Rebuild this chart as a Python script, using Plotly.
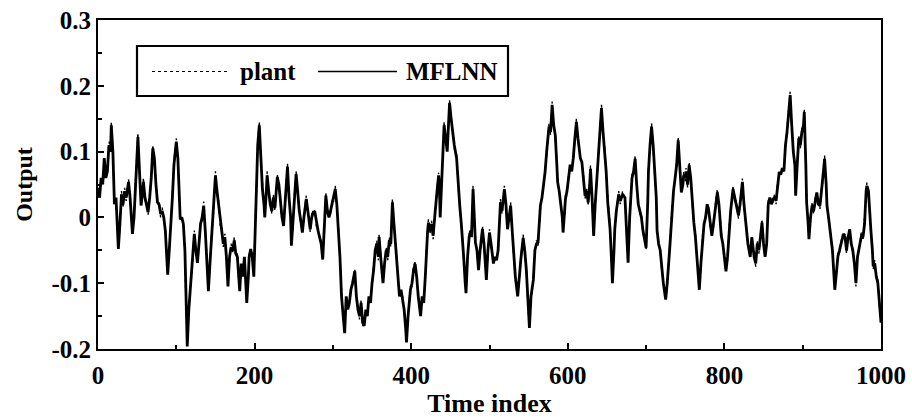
import plotly.graph_objects as go

# time indices where values were read
t = [0,2,4,6,8,10,12,14,16,17,19,21,23,25,26,28,30,32,34,36,39,41,42,44,46,48,51,53,55,57,58,60,62,64,66,68,70,72,74,76,78,80,82,84,86,88,89,91,93,95,97,100,102,105,107,109,111,112,114,116,118,120,123,125,127,129,131,133,135,137,138,141,143,145,147,149,150,152,154,156,158,160,162,164,166,168,170,172,174,176,178,179,181,183,185,187,189,190,192,193,195,197,199,201,203,204,206,208,210,212,213,215,216,218,220,222,224,226,228,229,231,233,235,237,239,241,242,244,246,247,249,251,253,255,257,259,261,263,264,266,268,270,271,273,275,277,279,281,283,285,287,289,291,293,295,297,299,301,303,305,307,309,311,313,315,317,319,321,323,325,328,330,332,334,336,338,340,342,344,346,348,350,352,354,356,358,359,361,364,366,368,370,372,374,376,378,381,383,385,387,389,391,393,394,396,399,401,403,405,407,409,411,412,414,416,418,419,421,422,424,426,428,430,431,433,435,436,437,439,441,442,444,446,448,449,451,453,455,458,460,462,464,465,467,469,470,472,474,476,477,479,481,482,484,486,488,491,493,496,498,500,502,505,507,509,511,513,514,516,519,521,523,525,527,529,531,533,536,538,540,543,545,547,549,551,553,556,558,560,562,564,565,567,569,571,573,576,578,580,582,584,586,587,589,591,593,594,596,597,599,601,603,605,607,609,611,613,616,618,620,622,624,626,628,629,631,633,635,638,640,643,645,647,649,651,653,654,656,657,659,660,662,665,667,670,673,675,677,679,682,684,686,688,690,692,694,696,698,700,702,703,705,707,709,711,713,714,716,718,720,722,725,727,730,731,733,735,737,739,741,743,745,747,748,750,751,753,755,757,759,761,763,765,767,768,770,772,774,776,778,780,782,784,786,788,791,793,796,798,800,802,804,806,808,811,813,815,818,820,823,825,828,830,833,835,838,840,842,844,846,848,850,852,854,856,858,860,862,864,866,868,870,872,874,876,878,880,882,884,886,888,890,891,893,895,897,899,901,902,904,905,907,908,910,912,914,916,918,920,922,924,926,928,930,931,933,935,936,938,941,943,945,947,949,952,954,956,958,960,962,964,966,968,970,972,975,977,979,981,982,984,986,987,989,990,992,994,996,998,1000]

mflnn = [0.045,0.03,0.06,0.05,0.09,0.06,0.07,0.11,0.10,0.14,0.10,0.02,0.03,-0.02,-0.048,-0.01,0.035,0.02,0.04,0.03,0.054,0.03,0.01,-0.025,0.00,0.06,0.122,0.07,0.018,0.04,0.054,0.03,0.02,0.008,0.03,0.06,0.105,0.09,0.05,0.023,0.02,0.005,0.01,0.0,-0.02,-0.06,-0.087,-0.05,-0.013,0.03,0.08,0.115,0.09,-0.003,0.0,-0.01,-0.05,-0.12,-0.196,-0.14,-0.11,-0.08,-0.025,-0.05,-0.069,-0.04,-0.01,0.0,0.018,-0.02,-0.04,-0.112,-0.07,-0.03,0.0,0.04,0.064,0.04,0.02,-0.008,-0.02,-0.04,-0.03,-0.06,-0.105,-0.06,-0.045,-0.05,-0.035,-0.055,-0.06,-0.08,-0.112,-0.07,-0.09,-0.06,-0.1,-0.13,-0.09,-0.06,-0.048,-0.06,-0.09,0.0,0.06,0.11,0.14,0.09,0.043,0.02,0.0,0.04,0.064,0.04,0.02,0.01,0.03,0.015,0.04,0.061,0.05,0.02,0.0,-0.013,0.03,0.06,0.077,0.03,0.0,-0.043,-0.01,0.03,0.066,0.04,0.01,-0.005,-0.023,0.0,0.01,0.028,0.01,-0.01,-0.018,0.0,0.008,0.008,-0.01,-0.02,-0.03,-0.04,-0.064,-0.02,0.033,0.01,0.0,0.01,0.02,0.03,0.043,0.02,-0.018,-0.06,-0.12,-0.15,-0.176,-0.12,-0.14,-0.13,-0.11,-0.10,-0.082,-0.12,-0.14,-0.15,-0.13,-0.16,-0.165,-0.14,-0.15,-0.12,-0.13,-0.10,-0.08,-0.05,-0.04,-0.06,-0.03,-0.06,-0.10,-0.07,-0.05,-0.06,-0.035,-0.04,0.023,-0.01,-0.053,-0.09,-0.12,-0.11,-0.125,-0.14,-0.17,-0.19,-0.15,-0.11,-0.10,-0.08,-0.071,-0.09,-0.12,-0.14,-0.15,-0.12,-0.13,-0.09,-0.06,-0.02,-0.008,-0.02,-0.01,-0.028,0.0,0.018,0.04,0.064,0.05,0.0,0.06,0.12,0.14,0.12,0.10,0.15,0.174,0.15,0.13,0.11,0.09,0.05,0.018,-0.01,-0.023,-0.06,-0.10,-0.115,-0.06,-0.03,-0.02,-0.03,0.043,0.0,-0.038,-0.05,-0.08,-0.05,-0.018,-0.04,-0.095,-0.05,-0.023,-0.04,-0.07,-0.06,-0.065,-0.05,-0.01,0.023,0.01,0.043,0.02,-0.018,0.0,0.018,-0.02,-0.059,-0.09,-0.12,-0.09,-0.064,-0.031,-0.05,-0.079,-0.13,-0.168,-0.12,-0.095,-0.05,-0.04,-0.038,0.0,0.018,0.03,0.05,0.069,0.1,0.138,0.13,0.171,0.14,0.125,0.08,0.054,0.04,0.018,0.0,-0.023,0.01,0.028,0.04,0.06,0.08,0.07,0.09,0.12,0.145,0.12,0.09,0.084,0.06,0.033,0.04,0.023,0.05,0.074,0.03,-0.028,0.02,0.069,0.11,0.166,0.13,0.105,0.07,0.023,0.0,-0.018,-0.07,-0.1,-0.05,-0.018,0.01,0.035,0.025,0.035,0.03,-0.02,-0.069,0.0,0.06,0.07,0.089,0.05,0.02,0.01,0.0,-0.02,-0.035,-0.046,0.02,0.069,0.11,0.138,0.11,0.06,0.03,-0.02,-0.04,-0.05,-0.08,-0.1,-0.125,-0.1,-0.05,-0.03,0.01,0.04,0.059,0.08,0.117,0.08,0.038,0.05,0.064,0.06,0.07,0.05,0.079,0.06,0.02,-0.008,-0.03,-0.06,-0.09,-0.11,-0.07,-0.033,-0.01,0.0,0.02,0.01,-0.01,-0.028,-0.01,0.01,0.038,0.02,-0.028,-0.04,-0.06,-0.082,-0.06,-0.018,0.01,0.043,0.03,0.02,0.003,0.02,0.054,0.02,-0.018,-0.04,-0.06,-0.03,-0.06,-0.07,-0.04,-0.05,-0.03,-0.008,-0.04,-0.06,-0.04,0.02,0.03,0.02,0.028,0.03,0.025,0.05,0.069,0.065,0.075,0.07,0.11,0.13,0.16,0.186,0.14,0.1,0.08,0.033,0.08,0.12,0.11,0.13,0.14,0.16,0.08,0.023,-0.01,-0.033,0.0,0.018,0.01,0.025,0.038,0.02,0.018,0.04,0.06,0.089,0.05,0.018,0.0,-0.02,-0.028,-0.05,-0.11,-0.08,-0.059,-0.05,-0.04,-0.025,-0.03,-0.05,-0.03,-0.018,-0.04,-0.05,-0.07,-0.1,-0.06,-0.045,-0.028,-0.03,-0.01,0.04,0.048,0.04,-0.01,-0.018,-0.05,-0.074,-0.07,-0.09,-0.1,-0.13,-0.16]

plant = [0.04,0.035,0.055,0.055,0.085,0.065,0.075,0.115,0.105,0.145,0.095,0.025,0.025,-0.015,-0.045,-0.015,0.04,0.015,0.045,0.025,0.058,0.035,0.005,-0.02,0.005,0.055,0.128,0.065,0.022,0.035,0.06,0.025,0.025,0.004,0.035,0.055,0.11,0.085,0.055,0.018,0.025,0.0,0.015,-0.005,-0.015,-0.065,-0.083,-0.055,-0.008,0.025,0.085,0.12,0.085,0.002,-0.005,-0.005,-0.055,-0.115,-0.19,-0.145,-0.105,-0.085,-0.02,-0.055,-0.065,-0.045,-0.005,-0.005,0.024,-0.025,-0.035,-0.108,-0.075,-0.025,-0.005,0.045,0.07,0.035,0.025,-0.012,-0.015,-0.045,-0.025,-0.065,-0.1,-0.065,-0.04,-0.055,-0.03,-0.06,-0.055,-0.085,-0.108,-0.075,-0.085,-0.065,-0.095,-0.125,-0.095,-0.055,-0.052,-0.055,-0.085,0.005,0.055,0.115,0.145,0.085,0.048,0.015,0.005,0.035,0.07,0.035,0.025,0.005,0.035,0.01,0.045,0.066,0.045,0.025,-0.005,-0.008,0.025,0.065,0.082,0.025,0.005,-0.038,-0.015,0.035,0.07,0.035,0.015,-0.01,-0.018,-0.005,0.015,0.033,0.005,-0.005,-0.022,0.005,0.004,0.012,-0.015,-0.015,-0.035,-0.035,-0.06,-0.025,0.038,0.005,0.005,0.005,0.025,0.025,0.048,0.015,-0.014,-0.065,-0.115,-0.155,-0.17,-0.125,-0.135,-0.135,-0.105,-0.105,-0.078,-0.125,-0.135,-0.155,-0.125,-0.165,-0.16,-0.145,-0.145,-0.125,-0.125,-0.105,-0.075,-0.055,-0.035,-0.065,-0.025,-0.065,-0.095,-0.075,-0.045,-0.065,-0.03,-0.045,0.028,-0.015,-0.048,-0.095,-0.115,-0.115,-0.12,-0.145,-0.165,-0.185,-0.155,-0.105,-0.105,-0.075,-0.066,-0.095,-0.115,-0.145,-0.145,-0.125,-0.125,-0.095,-0.055,-0.025,-0.003,-0.025,-0.005,-0.033,0.005,0.013,0.045,0.068,0.045,0.005,0.055,0.125,0.145,0.115,0.105,0.145,0.178,0.145,0.135,0.105,0.095,0.045,0.022,-0.015,-0.018,-0.065,-0.095,-0.11,-0.065,-0.025,-0.025,-0.025,0.048,-0.005,-0.033,-0.055,-0.075,-0.055,-0.013,-0.045,-0.09,-0.055,-0.018,-0.045,-0.065,-0.065,-0.06,-0.055,-0.005,0.028,0.005,0.048,0.015,-0.013,-0.005,0.023,-0.025,-0.054,-0.095,-0.115,-0.095,-0.06,-0.026,-0.055,-0.075,-0.135,-0.163,-0.125,-0.09,-0.055,-0.035,-0.043,0.005,0.013,0.035,0.045,0.074,0.095,0.143,0.125,0.176,0.135,0.13,0.075,0.059,0.035,0.023,-0.005,-0.018,0.005,0.033,0.035,0.065,0.075,0.075,0.085,0.125,0.15,0.115,0.095,0.079,0.065,0.028,0.045,0.018,0.055,0.079,0.025,-0.023,0.015,0.074,0.105,0.171,0.125,0.11,0.065,0.028,-0.005,-0.013,-0.075,-0.095,-0.055,-0.013,0.005,0.04,0.02,0.04,0.025,-0.015,-0.064,-0.005,0.065,0.065,0.094,0.045,0.025,0.005,0.005,-0.025,-0.03,-0.05,0.025,0.074,0.105,0.143,0.105,0.065,0.025,-0.015,-0.045,-0.045,-0.085,-0.095,-0.12,-0.105,-0.045,-0.035,0.015,0.035,0.064,0.075,0.122,0.075,0.043,0.045,0.069,0.055,0.075,0.045,0.084,0.055,0.025,-0.013,-0.025,-0.065,-0.085,-0.105,-0.075,-0.028,-0.015,0.005,0.015,0.015,-0.015,-0.023,-0.015,0.015,0.043,0.015,-0.023,-0.045,-0.055,-0.077,-0.065,-0.013,0.005,0.048,0.025,0.025,-0.002,0.025,0.059,0.015,-0.013,-0.045,-0.055,-0.035,-0.055,-0.075,-0.035,-0.055,-0.025,-0.003,-0.045,-0.055,-0.045,0.025,0.025,0.025,0.023,0.035,0.02,0.055,0.064,0.07,0.07,0.075,0.105,0.135,0.155,0.191,0.135,0.105,0.075,0.038,0.075,0.125,0.105,0.135,0.135,0.165,0.075,0.028,-0.015,-0.028,-0.005,0.023,0.005,0.03,0.033,0.025,0.013,0.045,0.055,0.094,0.045,0.023,-0.005,-0.015,-0.033,-0.045,-0.105,-0.085,-0.054,-0.055,-0.035,-0.03,-0.025,-0.055,-0.025,-0.023,-0.035,-0.055,-0.065,-0.105,-0.055,-0.05,-0.023,-0.035,-0.005,0.035,0.053,0.035,-0.005,-0.023,-0.045,-0.079,-0.065,-0.095,-0.095,-0.135,-0.155]

x_ticks = [0, 200, 400, 600, 800, 1000]
x_ticklabels = ["0", "200", "400", "600", "800", "1000"]
y_ticks = [-0.2, -0.1, 0, 0.1, 0.2, 0.3]
y_ticklabels = ["-0.2", "-0.1", "0", "0.1", "0.2", "0.3"]
legend_names = ["plant", "MFLNN"]

FONT = "Liberation Serif"

fig = go.Figure()
fig.add_trace(go.Scatter(x=t, y=mflnn, mode="lines", name=legend_names[1],
                         line=dict(color="black", width=2.8), showlegend=False))
fig.add_trace(go.Scatter(x=t, y=plant, mode="lines", name=legend_names[0],
                         line=dict(color="black", width=1.4, dash="dot"), showlegend=False))

W, H = 912, 418
L, R, T, B = 98, 31, 20, 69
pw, ph = W - L - R, H - T - B

def px(xp):
    return (xp - L) / pw

def py(yp):
    return (H - B - yp) / ph

shapes = [
    dict(type="rect", xref="paper", yref="paper", x0=px(137), x1=px(508), y0=py(96), y1=py(46),
         line=dict(color="black", width=2.2), fillcolor="white", layer="above"),
    dict(type="line", xref="paper", yref="paper", x0=px(152), x1=px(230), y0=py(71.5), y1=py(71.5),
         line=dict(color="black", width=1.2, dash="dot"), layer="above"),
    dict(type="line", xref="paper", yref="paper", x0=px(318), x1=px(397), y0=py(71.5), y1=py(71.5),
         line=dict(color="black", width=1.6), layer="above"),
]
annotations = [
    dict(xref="paper", yref="paper", x=px(238), y=py(71.5), text="<b>" + legend_names[0] + "</b>",
         showarrow=False, xanchor="left", yanchor="middle", font=dict(family=FONT, size=25, color="black")),
    dict(xref="paper", yref="paper", x=px(404), y=py(71.5), text="<b>" + legend_names[1] + "</b>",
         showarrow=False, xanchor="left", yanchor="middle", font=dict(family=FONT, size=25, color="black")),
]

fig.update_layout(
    width=W, height=H,
    margin=dict(l=L, r=R, t=T, b=B, autoexpand=False),
    paper_bgcolor="white", plot_bgcolor="white",
    shapes=shapes, annotations=annotations,
    font=dict(family=FONT, size=24, color="black"),
)
fig.update_xaxes(range=[0, 1000], tickvals=x_ticks, ticktext=x_ticklabels,
                 ticks="inside", ticklen=6, tickwidth=1.5, tickcolor="black",
                 minor=dict(ticks="inside", ticklen=4, dtick=100, tickcolor="black"),
                 showline=True, linecolor="black", linewidth=2, mirror=True,
                 showgrid=False, zeroline=False, automargin=False, ticklabelstandoff=3,
                 tickfont=dict(family=FONT, size=25, color="black", weight="bold"),
                 title=dict(text="<b>Time index</b>", font=dict(family=FONT, size=26), standoff=8))
fig.update_yaxes(range=[-0.2, 0.3], tickvals=y_ticks, ticktext=y_ticklabels,
                 ticks="inside", ticklen=6, tickwidth=1.5, tickcolor="black",
                 minor=dict(ticks="inside", ticklen=4, dtick=0.05, tickcolor="black"),
                 showline=True, linecolor="black", linewidth=2, mirror=True,
                 showgrid=False, zeroline=False, automargin=False,
                 tickfont=dict(family=FONT, size=25, color="black", weight="bold"),
                 title=dict(text="<b>Output</b>", font=dict(family=FONT, size=24), standoff=12))

fig.write_html("out.html")
